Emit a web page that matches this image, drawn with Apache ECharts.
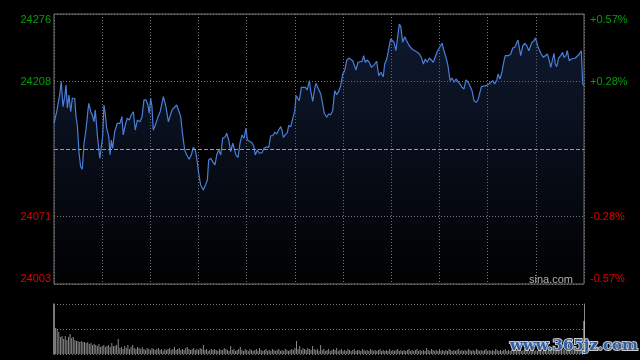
<!DOCTYPE html>
<html><head><meta charset="utf-8">
<script src="https://cdn.jsdelivr.net/npm/echarts@6/dist/echarts.min.js"></script>
<style>html,body{margin:0;padding:0;background:#000;}#c{width:640px;height:360px;}</style>
</head><body><div id="c"></div>
<script>
// ---- data (minutes since 09:30, trading session of 330 minutes) ----
const prevClose = 24139.5;
const priceMin = 24003;
const priceMax = 24276;
const priceStep = 68.25;
const minutes = [
0.0,1.7,2.5,3.7,4.5,5.6,6.7,7.5,8.3,9.3,10.4,11.4,12.9,13.7,14.5,15.6,16.6,17.6,18.7,19.9,
21.6,22.9,23.8,24.9,25.7,27.0,28.5,29.5,30.3,31.1,31.9,32.8,34.1,34.9,35.7,36.5,37.8,39.4,41.1,42.3,
43.1,44.4,45.6,46.9,48.1,49.4,50.6,51.9,53.5,54.8,56.0,57.3,58.5,59.3,60.2,61.0,61.8,63.1,64.8,66.1,
68.1,69.7,71.2,72.2,73.5,74.7,76.4,77.6,78.9,80.1,81.4,82.6,84.2,85.5,86.7,88.0,88.9,90.1,91.3,93.0,
94.2,95.5,96.3,97.6,98.8,100.2,101.3,102.5,103.8,105.0,106.7,107.5,108.8,110.0,111.3,112.5,113.3,114.6,115.8,117.1,
118.3,119.5,120.4,121.6,123.3,124.5,125.3,126.6,127.8,129.5,130.8,132.4,133.7,134.9,136.2,137.4,138.7,139.9,141.2,142.0,
142.8,144.0,145.3,146.1,147.4,148.6,149.9,150.7,151.7,152.7,154.0,155.2,156.5,157.7,159.0,160.0,161.1,162.3,163.1,164.4,
166.1,167.3,168.3,169.8,171.0,172.3,173.5,174.8,176.0,177.3,178.5,179.8,181.0,182.2,183.5,184.7,186.0,186.8,188.0,189.3,
190.5,191.8,192.8,193.8,195.1,196.3,197.6,199.2,200.9,202.2,203.5,205.0,205.9,207.2,208.4,209.6,210.5,211.7,212.9,214.2,
215.0,215.9,217.1,218.4,219.6,221.2,222.9,224.6,226.2,227.5,228.7,230.0,231.2,232.4,233.7,234.9,236.2,237.4,238.7,239.9,
241.6,242.8,244.1,245.3,246.6,247.8,249.1,250.3,251.5,252.8,254.0,255.3,256.5,257.8,259.0,260.3,261.5,262.8,264.0,264.8,
266.1,267.3,269.0,270.7,271.9,273.2,274.4,275.7,276.5,277.7,278.9,280.2,281.0,281.9,283.1,284.4,285.6,286.9,287.7,288.9,
289.8,290.6,291.9,293.1,294.4,295.6,296.8,297.6,298.9,299.7,300.6,301.4,302.2,303.4,304.7,305.9,307.2,308.4,309.3,310.1,
311.3,312.1,313.0,314.2,315.5,316.7,317.5,318.8,319.6,320.8,322.1,323.3,324.6,325.8,327.1,328.3,329.2,330.0
];
const prices = [
24165.5,24177.2,24179.0,24196.1,24207.6,24182.3,24192.4,24204.2,24181.0,24194.1,24177.2,24190.8,24190.8,24172.2,24163.8,24135.2,24121.6,24119.0,24145.3,24158.7,
24185.7,24177.2,24173.9,24167.1,24179.0,24153.7,24130.1,24131.7,24152.0,24184.0,24175.6,24160.4,24152.0,24133.4,24148.6,24140.2,24157.0,24165.5,24165.5,24172.2,
24153.7,24163.8,24170.5,24168.8,24173.9,24177.2,24158.7,24168.8,24167.1,24172.2,24189.1,24189.1,24184.0,24175.6,24190.8,24182.3,24158.7,24163.8,24172.2,24177.2,
24192.4,24182.3,24167.1,24167.1,24179.0,24177.2,24184.0,24182.3,24172.2,24153.7,24138.5,24133.4,24129.1,24133.4,24141.2,24138.5,24130.1,24114.9,24103.1,24098.0,
24098.0,24108.2,24128.4,24130.1,24126.7,24123.3,24133.4,24138.5,24133.4,24150.3,24152.0,24155.4,24148.6,24136.8,24145.3,24145.3,24133.4,24131.1,24145.3,24153.7,
24150.3,24160.4,24148.6,24146.9,24145.9,24141.8,24133.4,24138.5,24135.2,24135.8,24140.2,24141.8,24141.2,24152.9,24152.9,24156.4,24154.7,24158.7,24162.1,24158.0,
24151.3,24152.9,24156.4,24163.1,24162.1,24163.1,24178.2,24193.4,24191.8,24188.3,24201.9,24203.5,24201.9,24199.2,24208.6,24196.8,24187.7,24200.2,24205.9,24201.2,
24195.1,24185.0,24175.6,24171.6,24174.9,24174.2,24178.2,24198.5,24194.4,24197.8,24203.5,24215.4,24218.7,24228.8,24231.5,24230.5,24228.8,24230.5,24219.4,24227.2,
24228.8,24228.2,24233.9,24227.2,24229.5,24227.2,24222.1,24224.3,24228.2,24213.6,24217.1,24212.6,24225.5,24230.5,24232.2,24250.7,24249.0,24247.4,24238.9,24255.8,
24265.9,24263.2,24247.4,24253.0,24249.0,24243.9,24240.6,24238.9,24237.3,24235.6,24232.2,24225.5,24230.5,24227.2,24231.5,24229.5,24227.2,24228.8,24238.3,24237.3,
24246.4,24238.9,24232.2,24223.7,24208.6,24211.3,24207.0,24210.3,24208.6,24205.2,24201.9,24200.2,24209.3,24207.0,24203.5,24198.5,24188.3,24186.7,24189.1,24190.1,
24202.5,24203.5,24203.5,24205.2,24205.9,24208.6,24205.2,24209.3,24215.3,24210.3,24217.1,24228.8,24233.9,24232.2,24233.9,24235.6,24241.6,24242.3,24242.3,24249.7,
24249.0,24233.9,24244.0,24246.4,24244.0,24238.9,24239.6,24247.4,24249.0,24251.7,24247.4,24242.3,24244.0,24235.6,24232.2,24233.9,24235.6,24228.8,24222.1,24220.5,
24236.3,24225.5,24222.8,24231.5,24233.9,24237.3,24232.2,24233.9,24238.9,24228.8,24230.5,24231.5,24231.5,24229.5,24235.6,24238.9,24205.2,24203.2
];
// volume per minute (minute 0 .. 330)
const volumes = [
60,26,25,22,17,18,15,18,14,17,
20,16,17,14,13,13,12,13,12,12,
11,12,10,11,9,10,9,8,10,7,
8,9,7,8,9,7,11,8,8,9,
15,6,7,5,8,6,9,5,7,9,
6,5,7,6,5,7,5,4,6,5,
4,6,5,4,5,6,4,5,3,5,
4,5,6,4,5,7,4,5,6,4,
5,4,6,7,5,4,5,6,4,5,
4,6,5,9,4,5,3,4,5,4,
5,4,3,5,4,4,6,5,4,3,
8,4,5,3,4,5,7,4,3,5,
4,3,5,4,3,4,5,3,6,4,
3,4,5,3,4,3,5,4,3,4,
5,3,4,3,5,4,3,4,5,4,
6,13,5,8,4,6,5,4,6,5,
4,8,5,4,5,3,9,4,5,3,
4,5,3,4,5,4,6,3,4,5,
3,4,3,5,4,3,4,5,3,4,
4,3,5,4,3,4,3,5,4,3,
4,3,4,5,3,4,3,4,3,5,
3,4,3,4,5,3,4,3,4,3,
4,5,3,4,3,4,5,3,4,3,
4,3,6,4,3,5,4,3,4,3,
5,3,4,3,4,3,5,4,3,4,
3,4,5,3,4,3,4,3,5,4,
3,4,3,5,4,3,4,3,4,5,
3,4,3,4,3,5,4,3,4,3,
4,5,3,4,3,4,3,5,4,3,
4,3,4,5,3,4,3,4,5,3,
4,3,5,4,3,4,5,3,4,3,
5,4,3,4,5,3,4,5,4,3,
4,5,3,4,5,4,3,5,4,4,
33
];
const sourceText = 'sina.com';
const watermarkText = 'www.365jz.com';

// ---- chart ----
const chart = echarts.init(document.getElementById('c'), null, {renderer: 'canvas'});
const dot = {color: '#767676', width: 1, type: [1, 2]};
const green = '#00a000', red = '#e00000';
const fontFam = 'Arial, "Liberation Sans", sans-serif';
function tickIndex(v) { return Math.round((v - priceMin) / priceStep); }
const leftAxisLabel = {
  margin: 3, fontSize: 11, fontFamily: fontFam,
  formatter: function (v) { return tickIndex(v) === 2 ? '' : String(Math.round(v)); },
  color: function (v) { return Number(v) > prevClose ? green : red; },
  verticalAlignMinLabel: 'bottom', verticalAlignMaxLabel: 'top'
};
const rightAxisLabel = {
  margin: 6, fontSize: 11, fontFamily: fontFam,
  formatter: function (v) {
    if (tickIndex(v) === 2) return '';
    const pct = (v - prevClose) / prevClose * 100;
    return (pct > 0 ? '+' : '') + pct.toFixed(2) + '%';
  },
  color: function (v) { return Number(v) > prevClose ? green : red; },
  verticalAlignMinLabel: 'bottom', verticalAlignMaxLabel: 'top'
};
const option = {
  backgroundColor: '#000',
  animation: false,
  grid: [
    {left: 54, top: 14, width: 530, height: 270, show: true, borderColor: '#777', borderWidth: 1, backgroundColor: 'transparent'},
    {left: 54, top: 304, width: 530, height: 50}
  ],
  xAxis: [
    {type: 'value', gridIndex: 0, min: 0, max: 330, interval: 30,
     axisLine: {show: false}, axisTick: {show: false}, axisLabel: {show: false},
     splitLine: {show: true, lineStyle: dot}},
    {type: 'value', gridIndex: 1, min: 0, max: 330, show: false}
  ],
  yAxis: [
    {type: 'value', gridIndex: 0, min: priceMin, max: priceMax, interval: priceStep, position: 'left',
     axisLine: {show: false}, axisTick: {show: false}, axisLabel: leftAxisLabel,
     splitLine: {show: true, lineStyle: dot}},
    {type: 'value', gridIndex: 0, min: priceMin, max: priceMax, interval: priceStep, position: 'right',
     axisLine: {show: false}, axisTick: {show: false}, axisLabel: rightAxisLabel,
     splitLine: {show: false}},
    {type: 'value', gridIndex: 1, min: 0, max: 50, interval: 25, position: 'left',
     axisLine: {show: true, lineStyle: {color: '#888', width: 1.5}}, axisTick: {show: false}, axisLabel: {show: false},
     splitLine: {show: true, lineStyle: dot}},
    {type: 'value', gridIndex: 1, min: 0, max: 50, interval: 25, position: 'right',
     axisLine: {show: true, lineStyle: {color: '#888', width: 1}}, axisTick: {show: false}, axisLabel: {show: false},
     splitLine: {show: false}}
  ],
  series: [
    {
      type: 'line', xAxisIndex: 0, yAxisIndex: 0,
      data: minutes.map(function (m, i) { return [m, prices[i]]; }),
      symbol: 'none', showSymbol: false,
      lineStyle: {color: '#4a7fd8', width: 1.2},
      areaStyle: {origin: 'start', color: new echarts.graphic.LinearGradient(0, 0, 0, 1, [
        {offset: 0, color: 'rgba(45,75,140,0.48)'},
        {offset: 1, color: 'rgba(45,75,140,0.02)'}
      ])},
      markLine: {silent: true, symbol: 'none', label: {show: false},
        lineStyle: {color: '#9a9a9a', type: [4, 2], width: 1},
        data: [{yAxis: prevClose}]},
      z: 3
    },
    {
      type: 'bar', xAxisIndex: 1, yAxisIndex: 2,
      data: volumes.map(function (v, i) { return [i, v]; }),
      barWidth: 1,
      itemStyle: {color: function (p) { return p.dataIndex === volumes.length - 1 ? '#d8d8d8' : '#8a8a8a'; }}
    }
  ],
  graphic: [
    {type: 'text', x: 573, y: 285, z: 10,
     style: {text: sourceText, fill: '#b0b0b0', font: '11px ' + fontFam, textAlign: 'right', textVerticalAlign: 'bottom'}},
    {type: 'text', x: 574, y: 346, z: 10,
     style: {text: watermarkText, fill: '#2e5fa6', font: 'bold 15px "DejaVu Serif", serif', textAlign: 'center', textVerticalAlign: 'middle',
             stroke: '#c8c8c8', lineWidth: 2}}
  ]
};
chart.setOption(option);
</script>
</body></html>
